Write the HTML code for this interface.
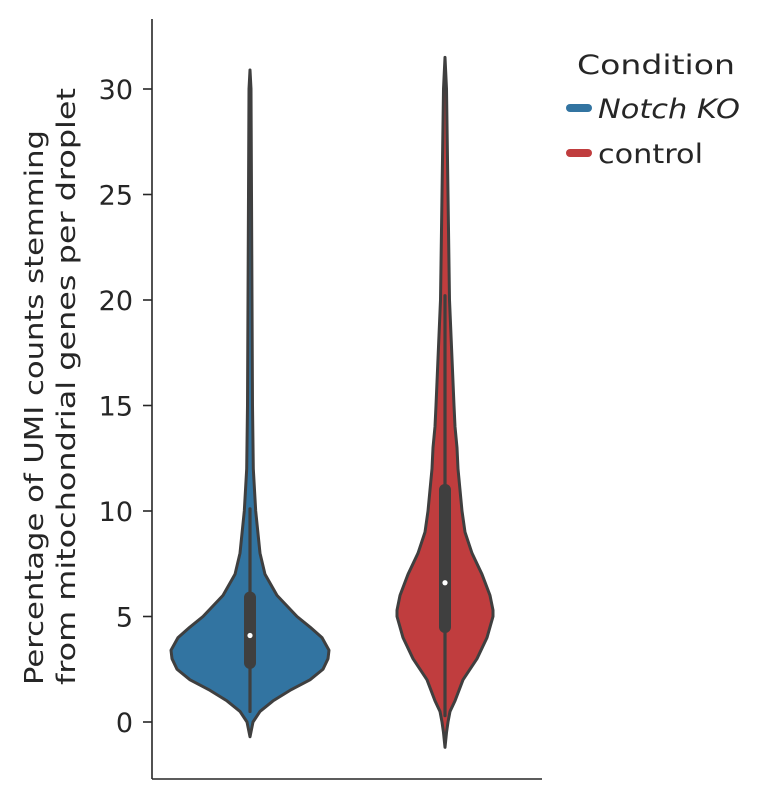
<!DOCTYPE html>
<html><head><meta charset="utf-8"><style>
body{margin:0;background:#fff;}
svg{display:block;font-family:"DejaVu Sans","Liberation Sans",sans-serif;}
</style></head><body>
<svg id="chart" width="774" height="800" viewBox="0 0 774 800"></svg>
<script>
const categories = ["Notch KO", "control"];
const colors = ["#3274a1", "#c03d3e"];
const yTicks = [0, 5, 10, 15, 20, 25, 30];
const koVals =  [-0.7, 0, 0.5, 1, 1.5, 2, 2.5, 3, 3.4, 4, 4.5, 5, 6, 7, 8, 10, 12, 15, 20, 25, 30, 30.9];
const koWidth = [0, 3, 10, 23, 40, 60, 73, 78, 79, 72, 60, 47, 27, 15, 10, 5.7, 3.3, 2.5, 2, 1.5, 1, 0];
const ctVals =  [-1.2, -0.5, 0, 0.5, 1, 2, 3, 4, 5, 5.3, 6, 7, 8, 9, 10, 11, 12, 13, 14, 15, 20, 25, 30, 31.5];
const ctWidth = [0, 1.5, 3, 5, 10, 18, 32, 42, 48, 48, 45, 37, 27, 20, 17, 15, 13, 12, 10, 9, 4.5, 3, 1.5, 0];
const koBox = [0.5, 2.8, 4.1, 5.9, 10.1];
const ctBox = [0.3, 4.5, 6.6, 11.0, 20.2];

const svg = document.getElementById('chart');
const NS = 'http://www.w3.org/2000/svg';
const y = v => 722 - v * (722 - 89) / 30;
const xCenter = i => 250 + i * 195;
function mk(tag, attrs, parent){const e=document.createElementNS(NS,tag);for(const k in attrs)e.setAttribute(k,attrs[k]);(parent||svg).appendChild(e);return e;}

let ax = mk('line',{x1:152,y1:19,x2:152,y2:779,stroke:'#262626','stroke-width':1.6});


let bx = mk('line',{x1:152,y1:779,x2:542,y2:779,stroke:'#262626','stroke-width':1.6});


yTicks.forEach(t=>{
  const tk = mk('line',{x1:143,y1:y(t),x2:152,y2:y(t),stroke:'#262626','stroke-width':1.6});
  
  
  const tl = mk('text',{x:133,y:y(t)+10,'text-anchor':'end','font-size':27,fill:'#262626'});
  tl.textContent = t;
  
  
});
const yt1 = mk('text',{transform:'translate(43,685) rotate(-90)','font-size':26,fill:'#262626',textLength:555,lengthAdjust:'spacingAndGlyphs'});
yt1.textContent='Percentage of UMI counts stemming';


const yt2 = mk('text',{transform:'translate(75,685) rotate(-90)','font-size':26,fill:'#262626',textLength:597,lengthAdjust:'spacingAndGlyphs'});
yt2.textContent='from mitochondrial genes per droplet';



function violin(i, vals, widths, box){
  const cx = xCenter(i);
  let pts = [];
  for(let k=0;k<vals.length;k++) pts.push((cx-widths[k])+','+y(vals[k]));
  for(let k=vals.length-1;k>=0;k--) pts.push((cx+widths[k])+','+y(vals[k]));
  const p = mk('polygon',{points:pts.join(' '),fill:colors[i],stroke:'#3f3f3f','stroke-width':3,'stroke-linejoin':'round'});
  
  
  const w = mk('line',{x1:cx,y1:y(box[0]),x2:cx,y2:y(box[4]),stroke:'#3f3f3f','stroke-width':3.2,'stroke-linecap':'round'});
  
  
  const b = mk('line',{x1:cx,y1:y(box[1]),x2:cx,y2:y(box[3]),stroke:'#3f3f3f','stroke-width':12,'stroke-linecap':'round'});
  
  
  const m = mk('circle',{cx:cx,cy:y(box[2]),r:2.6,fill:'#fff'});
  
  
}
violin(0, koVals, koWidth, koBox);
violin(1, ctVals, ctWidth, ctBox);

const lt = mk('text',{x:577,y:74,'font-size':27,fill:'#262626',textLength:158,lengthAdjust:'spacingAndGlyphs'});
lt.textContent='Condition';


const legLens = [142, 105];
categories.forEach((c,i)=>{
  const yy = 108 + i*45;
  const l = mk('line',{x1:570,y1:yy,x2:588,y2:yy,stroke:colors[i],'stroke-width':8,'stroke-linecap':'round'});
  
  
  const tx = mk('text',{x:598,y:yy+10,'font-size':27,fill:'#262626','font-style':i===0?'italic':'normal',textLength:legLens[i],lengthAdjust:'spacingAndGlyphs'});
  tx.textContent=c;
  
  
});
</script>
</body></html>
